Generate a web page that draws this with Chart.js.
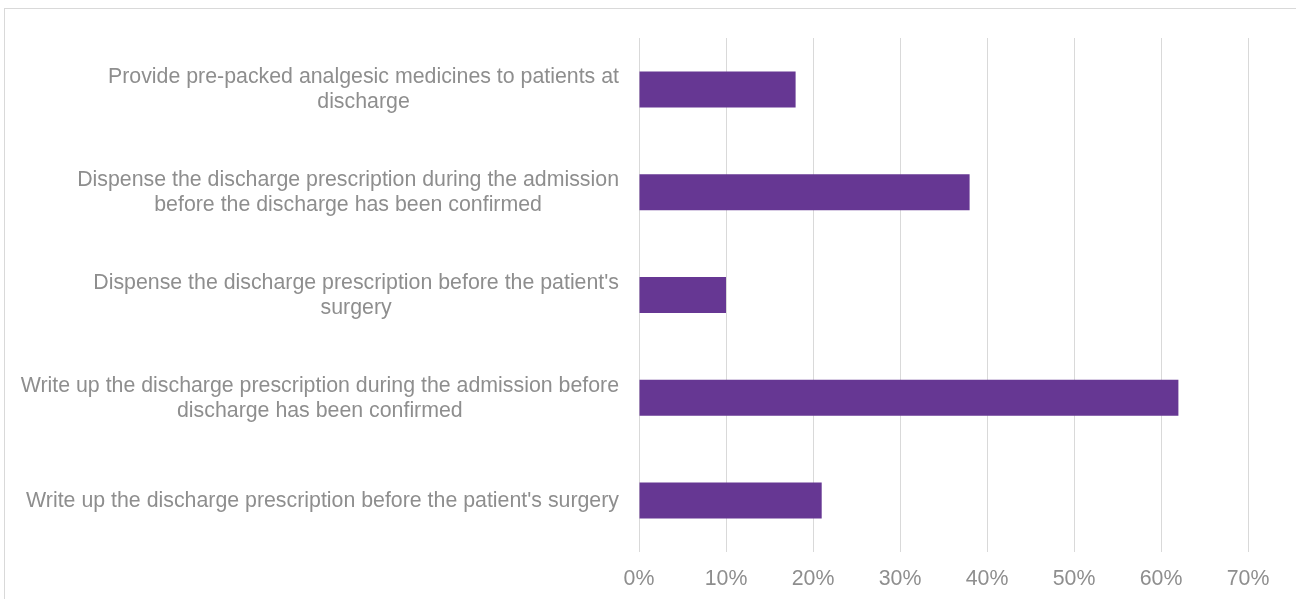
<!DOCTYPE html>
<html>
<head>
<meta charset="utf-8">
<script src="https://cdn.jsdelivr.net/npm/chart.js@4"></script>
<style>
  html, body { margin: 0; padding: 0; background: #fff; overflow: hidden; }
  #wrap { width: 1296px; height: 599px; position: relative; }
</style>
</head>
<body>
<div id="wrap"><canvas id="myChart" width="1296" height="599"></canvas></div>
<script>
// data
var categories = [
  ["Provide pre-packed analgesic medicines to patients at", "discharge"],
  ["Dispense the discharge prescription during the admission", "before the discharge has been confirmed"],
  ["Dispense the discharge prescription before the patient's", "surgery"],
  ["Write up the discharge prescription during the admission before", "discharge has been confirmed"],
  ["Write up the discharge prescription before the patient's surgery"]
];
var values = [18, 38, 10, 62, 21];
var tickValues = [0, 10, 20, 30, 40, 50, 60, 70];

var textColor = "#8e8e8e";
var fontFamily = "'Liberation Sans', Arial, sans-serif";
var fontSize = 21.33;

// outer frame + y labels (block right aligned, lines centred)
var framePlugin = {
  id: "frame",
  beforeDraw: function(chart) {
    var ctx = chart.ctx;
    ctx.save();
    ctx.fillStyle = "#fff";
    ctx.fillRect(0, 0, chart.width, chart.height);
    ctx.strokeStyle = "#d9d9d9";
    ctx.lineWidth = 1;
    ctx.strokeRect(4.5, 8.5, 2000, 2000);
    ctx.restore();
  },
  afterDraw: function(chart) {
    var ctx = chart.ctx;
    var yScale = chart.scales.y;
    var right = chart.chartArea.left - 20;
    var lineH = 25;
    ctx.save();
    ctx.font = fontSize + "px " + fontFamily;
    ctx.fillStyle = textColor;
    ctx.textAlign = "center";
    ctx.textBaseline = "middle";
    categories.forEach(function(lines, i) {
      var w = 0;
      lines.forEach(function(l) { w = Math.max(w, ctx.measureText(l).width); });
      var cx = right - w / 2;
      var cy = yScale.getPixelForTick(i) + 0.5;
      var y0 = cy - (lines.length - 1) * lineH / 2;
      lines.forEach(function(l, j) {
        ctx.fillText(l, cx, y0 + j * lineH);
      });
    });
    ctx.restore();
  }
};

var ctx = document.getElementById("myChart").getContext("2d");
new Chart(ctx, {
  type: "bar",
  data: {
    labels: categories,
    datasets: [{
      data: values,
      backgroundColor: "#663793",
      borderWidth: 0,
      barPercentage: 0.35,
      categoryPercentage: 1.0
    }]
  },
  options: {
    indexAxis: "y",
    responsive: false,
    animation: false,
    events: [],
    layout: { padding: { left: 639, top: 38, right: 48, bottom: 0 } },
    plugins: { legend: { display: false }, tooltip: { enabled: false } },
    scales: {
      x: {
        min: 0,
        max: 70,
        afterBuildTicks: function(scale) {
          scale.ticks = tickValues.map(function(v) { return { value: v }; });
        },
        afterFit: function(scale) { scale.height = 47; },
        grid: { color: "#d9d9d9", lineWidth: 1, drawTicks: false },
        border: { display: false },
        ticks: {
          color: textColor,
          padding: 14,
          font: { size: fontSize, family: fontFamily },
          callback: function(v) { return v + "%"; }
        }
      },
      y: {
        display: false
      }
    }
  },
  plugins: [framePlugin]
});
</script>
</body>
</html>
